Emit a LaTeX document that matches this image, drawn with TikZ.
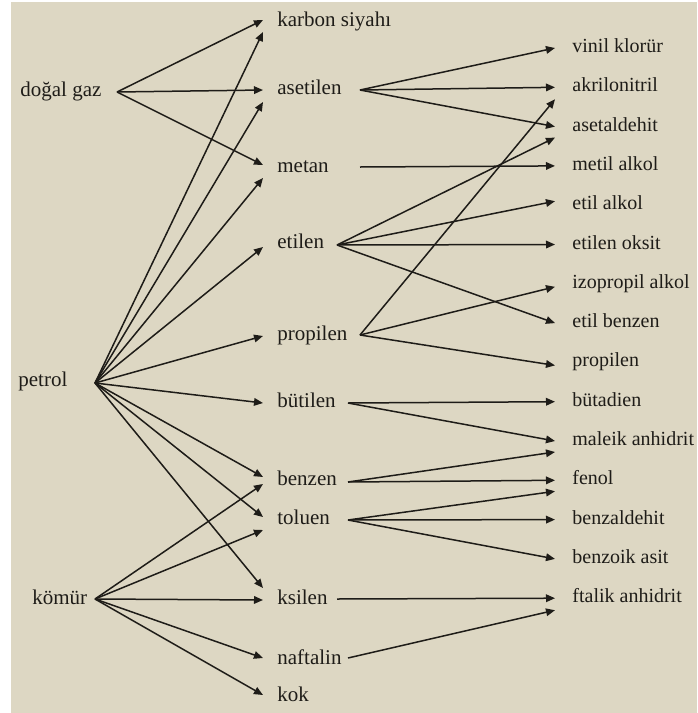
\documentclass[tikz,border=0pt]{standalone}
\usepackage{fontspec}
\setmainfont{Liberation Serif}
\usetikzlibrary{arrows.meta}
\definecolor{fbeige}{HTML}{DDD7C3}
\definecolor{fink}{HTML}{1E1C18}
\tikzset{
  src/.style   = {anchor=mid west, inner sep=0pt, text=fink},
  inter/.style = {anchor=mid west, inner xsep=7pt, inner ysep=1pt, text=fink},
  prod/.style  = {anchor=mid west, inner xsep=8.5pt, inner ysep=1pt, text=fink,
                  font=\fontsize{10}{12}\selectfont},
  link/.style  = {-{Triangle[length=4.5pt,width=3.8pt]}, line width=0.75pt, draw=fink},
}

\begin{document}
\begin{tikzpicture}[x=0.5pt,y=-0.5pt,font=\fontsize{10.5}{12}\selectfont]
\useasboundingbox (0,0) rectangle (697,713);
\fill[fbeige] (11,2) rectangle (697,713);

% raw materials
\node[src] (dogalgaz) at (20,92)  {doğal gaz};
\node[src] (petrol)   at (18,382) {petrol};
\node[src] (komur)    at (32,600) {kömür};
\coordinate (dogalgaz-o) at (117,92);
\coordinate (petrol-o)   at (95,383);
\coordinate (komur-o)    at (95,599);

% intermediates
\node[inter] (karbon)   at (263,22)  {karbon siyahı};
\node[inter] (asetilen) at (263,90)  {asetilen};
\node[inter] (metan)    at (263,168) {metan};
\node[inter] (etilen)   at (263,244) {etilen};
\node[inter] (propilen) at (263,336) {propilen};
\node[inter] (butilen)  at (263,403) {bütilen};
\node[inter] (benzen)   at (263,481) {benzen};
\node[inter] (toluen)   at (263,520) {toluen};
\node[inter] (ksilen)   at (263,600) {ksilen};
\node[inter] (naftalin) at (263,660) {naftalin};
\node[inter] (kok)      at (263,697) {kok};
\coordinate (asetilen-o) at (360,90);
\coordinate (metan-o)    at (360,167);
\coordinate (etilen-o)   at (337,245);
\coordinate (propilen-o) at (360,335);
\coordinate (butilen-o)  at (348,403);
\coordinate (benzen-o)   at (348,482);
\coordinate (toluen-o)   at (348,520);
\coordinate (ksilen-o)   at (337,599);
\coordinate (naftalin-o) at (348,658);

% products
\foreach \n/\t [count=\i from 0] in {vinil/vinil klorür, akril/akrilonitril,
    asetal/asetaldehit, metil/metil alkol, etilalk/etil alkol,
    etilox/etilen oksit, izoprop/izopropil alkol, etilbenz/etil benzen,
    propilenb/propilen, butadien/bütadien, maleik/maleik anhidrit,
    fenol/fenol, benzald/benzaldehit, benzoik/benzoik asit,
    ftalik/ftalik anhidrit}
  \node[prod] (\n) at (555,48+39.3*\i) {\t};

% feedstock arrows
\foreach \t/\d in {karbon/-2, asetilen/0, metan/-3}
  \draw[link] (dogalgaz-o) -- ([shift={(0,\d)}]\t.mid west);
\foreach \t/\d in {karbon/10, asetilen/12, metan/10, etilen/3, propilen/0,
    butilen/0, benzen/-4, toluen/-3, ksilen/-12}
  \draw[link] (petrol-o) -- ([shift={(0,\d)}]\t.mid west);
\foreach \t/\d in {benzen/3, toluen/10, ksilen/0, naftalin/-2, kok/-2}
  \draw[link] (komur-o) -- ([shift={(0,\d)}]\t.mid west);

% product arrows
\foreach \s/\t/\d in {asetilen/vinil/0, asetilen/akril/0, asetilen/asetal/0,
    metan/metil/0, etilen/asetal/11, etilen/etilalk/-4, etilen/etilox/0,
    etilen/etilbenz/0, propilen/akril/12, propilen/izoprop/3,
    propilen/propilenb/3, butilen/butadien/0, butilen/maleik/0,
    benzen/maleik/11, benzen/fenol/0, toluen/fenol/11, toluen/benzald/0,
    toluen/benzoik/0, ksilen/ftalik/0, naftalin/ftalik/12}
  \draw[link] (\s-o) -- ([shift={(0,\d)}]\t.mid west);
\end{tikzpicture}
\end{document}
